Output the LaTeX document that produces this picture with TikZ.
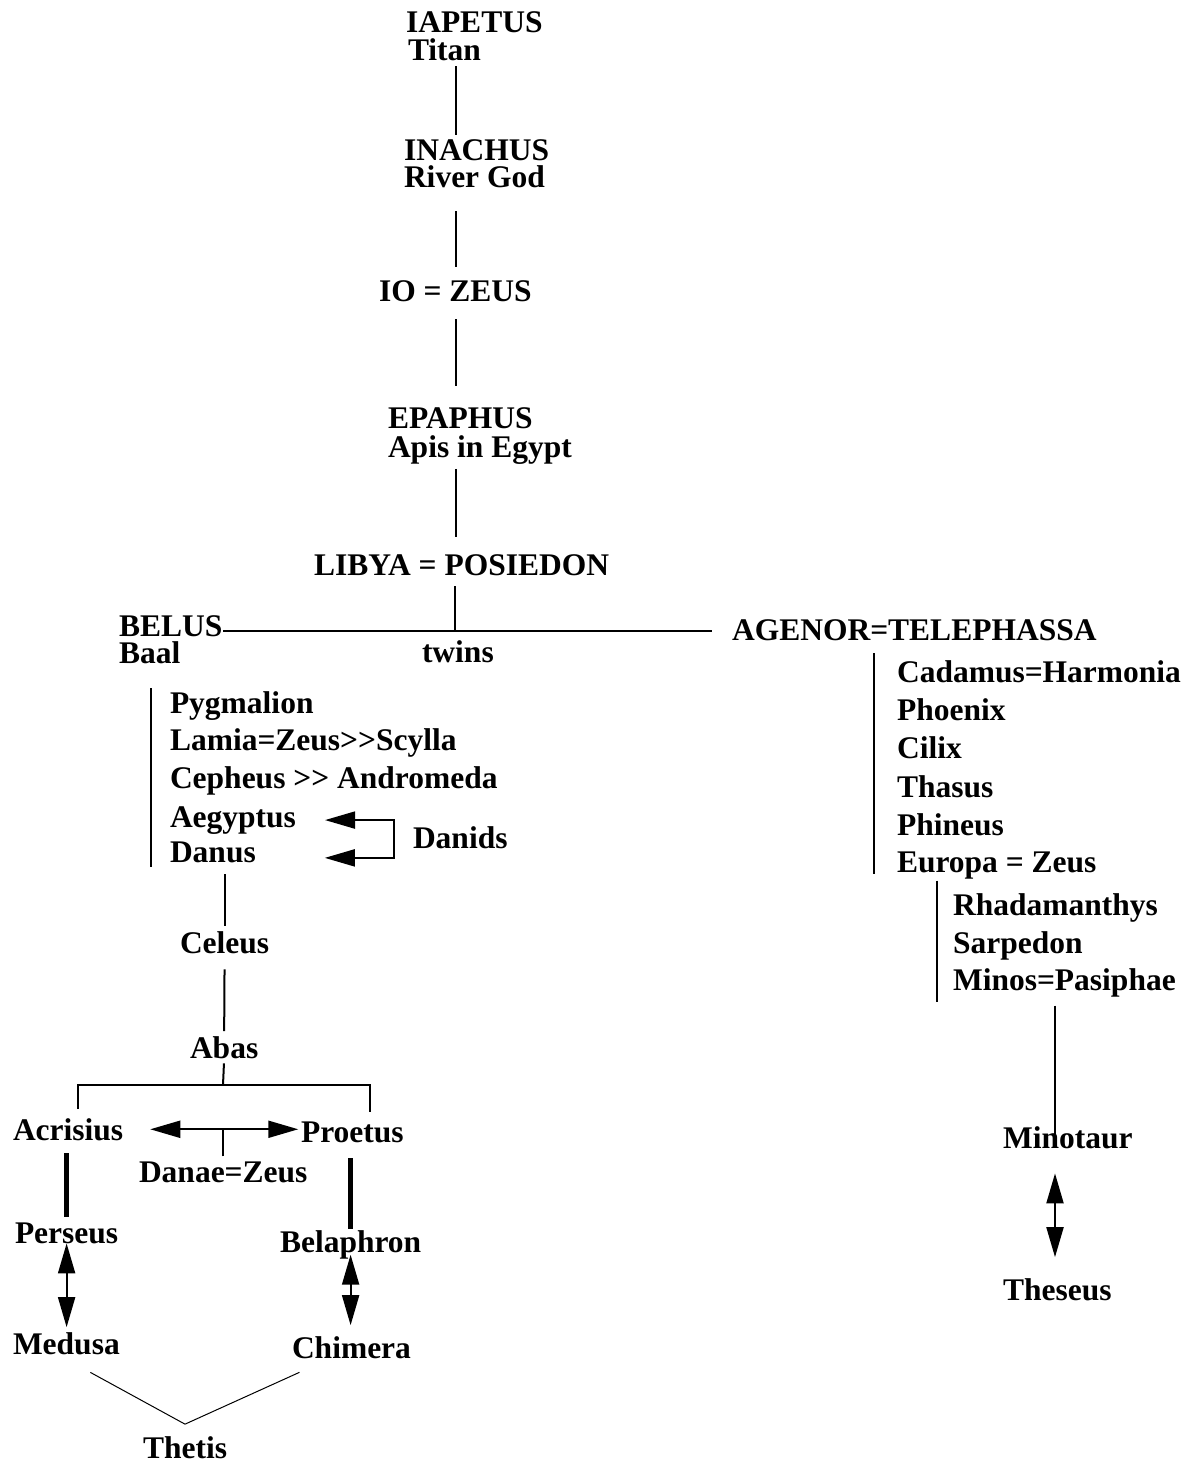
\documentclass[tikz,border=0pt]{standalone}
\usepackage{fontspec}
\setmainfont{Liberation Serif}
\usepackage{tikz}
\usetikzlibrary{arrows.meta,positioning,calc}

\begin{document}
\begin{tikzpicture}[x=1pt,y=-1pt,font=\fontsize{31.5}{34}\selectfont\bfseries,line width=2pt]
        \tikzstyle{nm}=[anchor=base west,inner sep=0pt]
        \tikzstyle{heavy}=[line width=5pt]
        \tikzstyle{dbl}=[{Triangle[length=30pt,width=17pt]}-{Triangle[length=30pt,width=17pt]}]
        \useasboundingbox (0,0) rectangle (1194,1463);
        % Main line of descent
        \node[nm] (iap) at (405,33)  {IAPETUS};
        \node[nm] (tit) at (407,61)  {Titan};
        \node[nm] (ina) at (403,161) {INACHUS};
        \node[nm] (riv) at (403,188) {River God};
        \node[nm] (io)  at (378,301) {IO = ZEUS};
        \node[nm] (epa) at (387,428) {EPAPHUS};
        \node[nm] (api) at (387,457) {Apis in Egypt};
        \node[nm] (lib) at (313,575) {LIBYA = POSIEDON};
        \node[nm] (bel) at (118,636) {BELUS};
        \node[nm] (baal) at (118,663) {Baal};
        \node[nm] (twi) at (421,662) {twins};
        \node[nm] (age) at (731,640) {AGENOR=TELEPHASSA};
        % Children of Belus
        \node[nm] (pyg) at (169,713) {Pygmalion};
        \node[nm] (lam) at (169,750) {Lamia=Zeus>{}>Scylla};
        \node[nm] (cep) at (169,788) {Cepheus >{}> Andromeda};
        \node[nm] (aeg) at (169,827) {Aegyptus};
        \node[nm] (dan) at (169,862) {Danus};
        \node[nm] (dni) at (412,848) {Danids};
        \node[nm] (cel) at (179,953) {Celeus};
        \node[nm] (aba) at (189,1058) {Abas};
        \node[nm] (acr) at (12,1140)  {Acrisius};
        \node[nm] (pro) at (300,1142) {Proetus};
        \node[nm] (dz)  at (138,1182) {Danae=Zeus};
        \node[nm] (per) at (14,1243)  {Perseus};
        \node[nm] (bla) at (279,1252) {Belaphron};
        \node[nm] (med) at (12,1354)  {Medusa};
        \node[nm] (chi) at (291,1358) {Chimera};
        \node[nm] (the) at (142,1458) {Thetis};
        % Children of Agenor
        \node[nm] (cad) at (896,682) {Cadamus=Harmonia};
        \node[nm] (pho) at (896,720) {Phoenix};
        \node[nm] (cil) at (896,758) {Cilix};
        \node[nm] (tha) at (896,797) {Thasus};
        \node[nm] (phi) at (896,835) {Phineus};
        \node[nm] (eur) at (896,872) {Europa = Zeus};
        \node[nm] (rha) at (952,915) {Rhadamanthys};
        \node[nm] (sar) at (952,953) {Sarpedon};
        \node[nm] (min) at (952,990) {Minos=Pasiphae};
        \node[nm] (mnt) at (1002,1148) {Minotaur};
        \node[nm] (ths) at (1002,1300) {Theseus};
        % Bars
        \coordinate (spine)   at (456,0);
        \coordinate (twinbar) at (455,631);
        \coordinate (belbar)  at (151,0);
        \coordinate (abasbar) at (223,1085);
        \coordinate (agebar)  at (874,0);
        \coordinate (eurbar)  at (937,0);
        \coordinate (minbar)  at (1055,0);
        \draw[shorten <=4pt,shorten >=4pt] (tit.south -| spine) -- (ina.north -| spine);
        \draw[shorten <=22pt,shorten >=12pt] (riv.south -| spine) -- (io.north -| spine);
        \draw[shorten <=17pt,shorten >=20pt] (io.south -| spine) -- (epa.north -| spine);
        \draw[shorten <=4pt,shorten >=16pt] (api.south -| spine) -- (lib.north -| spine);
        \draw[shorten <=10pt] (lib.south -| twinbar) -- (twinbar);
        \draw[shorten >=19pt] (bel.east |- twinbar) -- (age.west |- twinbar);
        \draw[shorten <=24pt,shorten >=-4pt] (baal.south -| belbar) -- (dan.south -| belbar);
        \draw[dbl] ([xshift=28pt]aeg.east) -- ++(69,0) |- ([xshift=68pt,yshift=-6pt]dan.east);
        \draw[shorten <=11pt,shorten >=4pt] (dan.south -| cel.north) -- (cel.north);
        \draw[shorten <=15pt,shorten >=4pt] (cel.south) -- (aba.north);
        \draw[shorten <=4pt] (aba.south) -- (abasbar);
        \draw ([xshift=10pt,yshift=8pt]acr.north) |- (abasbar) -| ([xshift=18pt,yshift=8pt]pro.north);
        \draw[dbl] ([xshift=26pt]acr.east) -- ++(148,0);
        \draw[shorten <=4pt] (dz.north) -- (dz.north |- acr.east);
        \draw[heavy,shorten <=12pt,shorten >=4pt] (per.north |- acr.south) -- (per.north);
        \draw[dbl,shorten <=-1pt,shorten >=4pt] (per.south) -- (per.south |- med.north);
        \draw[heavy,shorten <=15pt] (bla.north |- pro.south) -- (bla.north);
        \draw[dbl,shorten <=-5pt,shorten >=10pt] (bla.south) -- (bla.south |- chi.north);
        \draw[line width=1pt] ([xshift=24pt,yshift=-17pt]med.south) -- ([yshift=11pt]the.north) -- ([xshift=-52pt,yshift=-13pt]chi.south);
        \draw[shorten <=12pt,shorten >=6pt] (age.south -| agebar) -- (eur.south -| agebar);
        \draw[shorten <=1pt,shorten >=-4pt] (eur.south -| eurbar) -- (min.south -| eurbar);
        \draw[shorten <=8pt,shorten >=-13pt] (min.south -| minbar) -- (mnt.north -| minbar);
        \draw[dbl,shorten <=24pt,shorten >=20pt] (mnt.south -| minbar) -- (ths.north -| minbar);
      \end{tikzpicture}
\end{document}
